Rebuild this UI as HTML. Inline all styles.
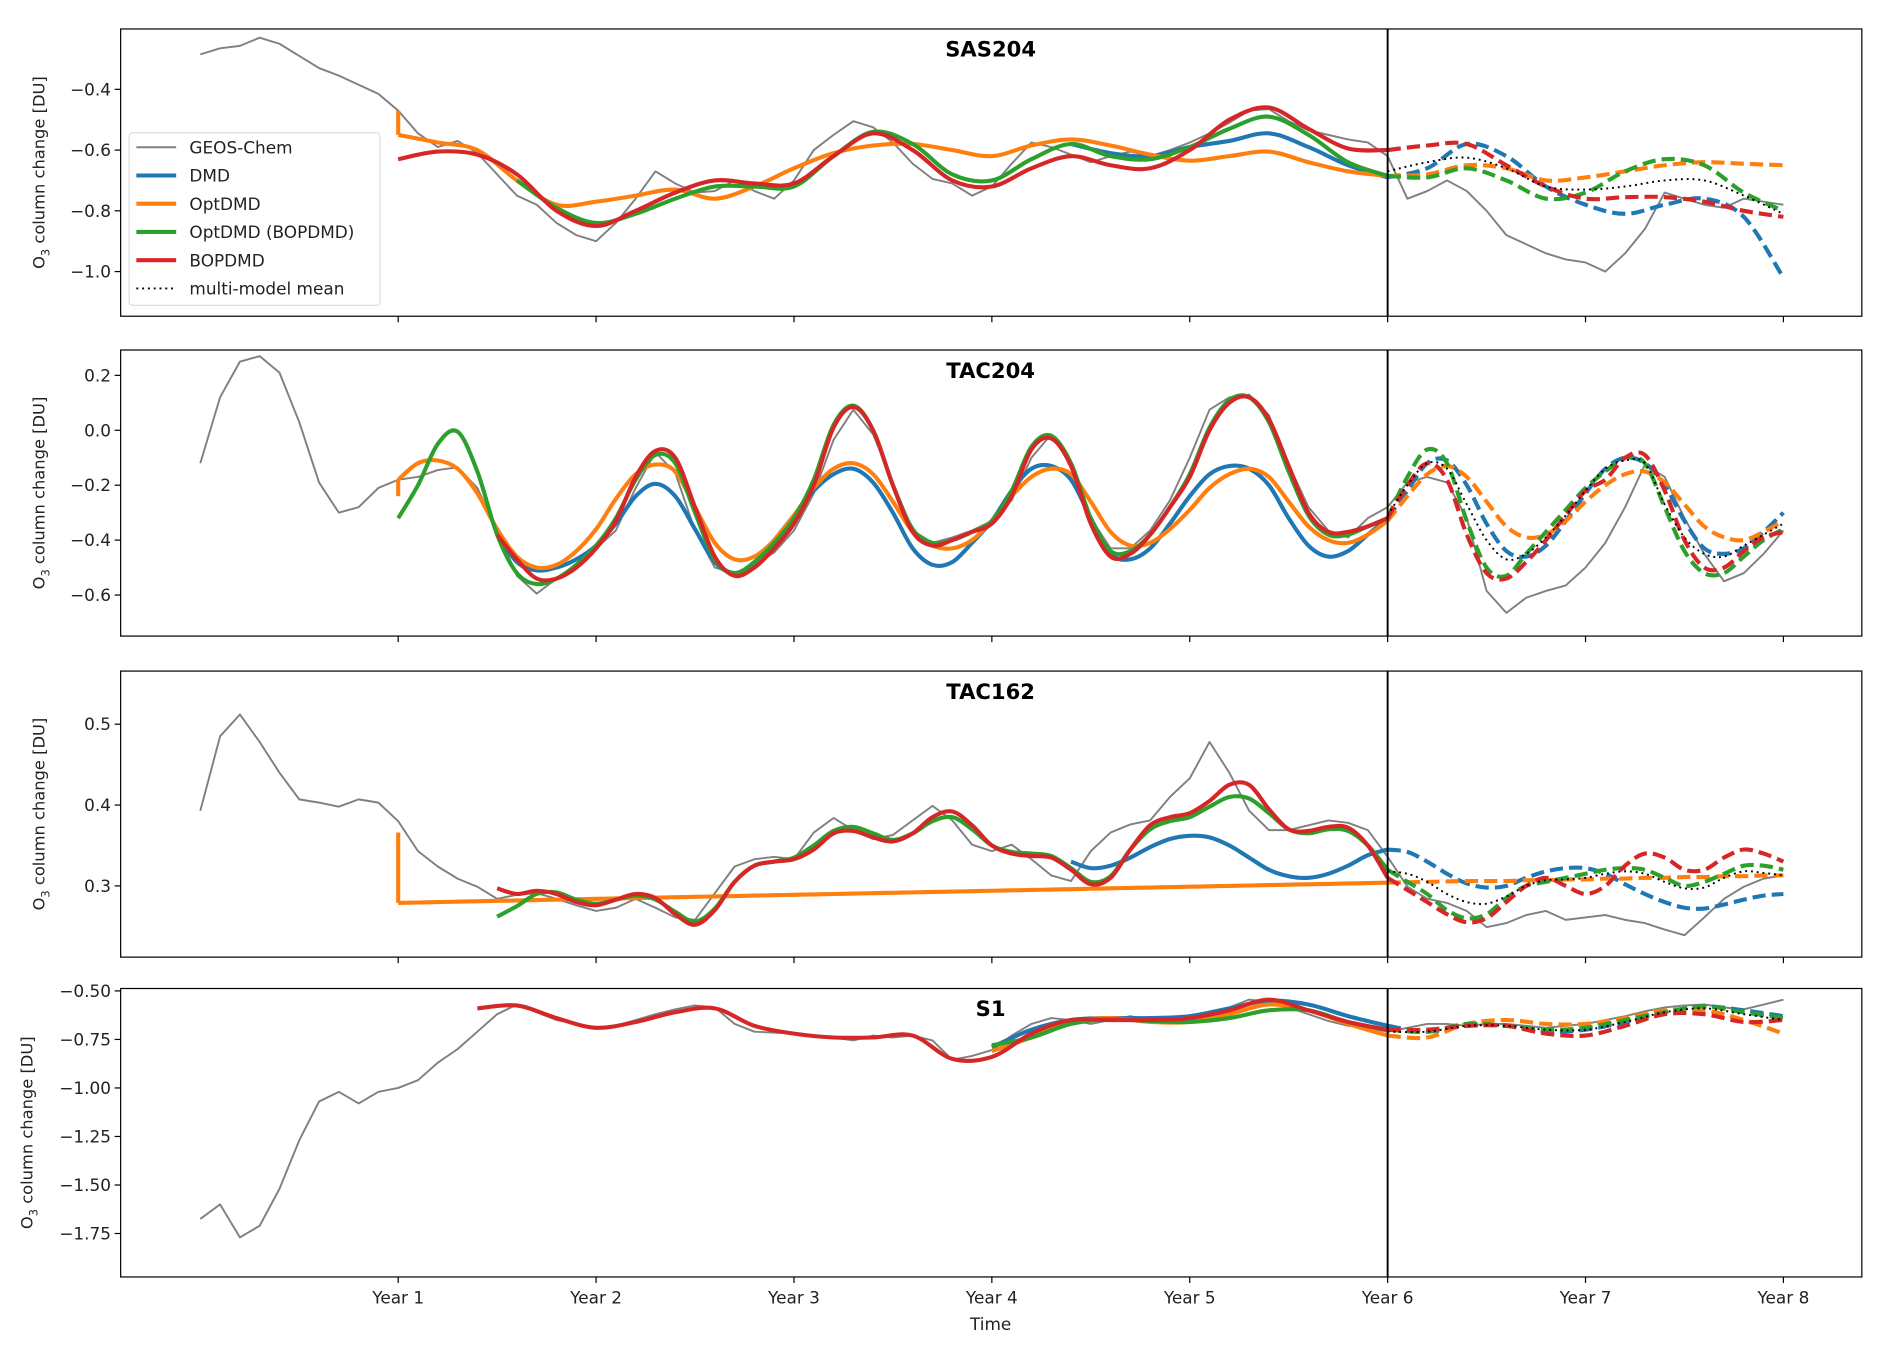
<!DOCTYPE html>
<html><head><meta charset="utf-8">
<style>
html,body{margin:0;padding:0;background:#fff;}
svg{display:block;font-family:"DejaVu Sans","Liberation Sans",sans-serif;}
</style></head>
<body>
<svg id="fig" xmlns="http://www.w3.org/2000/svg" width="1892" height="1353" viewBox="0 0 1568 1121" preserveAspectRatio="none"></svg>
<script>
// ---------- data ----------
const yearLabels = ["Year 1","Year 2","Year 3","Year 4","Year 5","Year 6","Year 7","Year 8"];
const yearTicks = [1,2,3,4,5,6,7,8];
const panelTitles = ["SAS204","TAC204","TAC162","S1"];
const sasTicks = [-0.4,-0.6,-0.8,-1.0];
const tac204Ticks = [0.2,0.0,-0.2,-0.4,-0.6];
const tac162Ticks = [0.5,0.4,0.3];
const s1Ticks = [-0.50,-0.75,-1.00,-1.25,-1.50,-1.75];
const forecastStartYear = 6;

// GEOS-Chem, t = 0..8 step 0.1
const sasGeos = [-0.285,-0.265,-0.257,-0.23,-0.25,-0.29,-0.33,-0.355,-0.385,-0.415,-0.47,-0.545,-0.59,-0.57,-0.61,-0.68,-0.75,-0.78,-0.84,-0.88,-0.9,-0.84,-0.76,-0.67,-0.71,-0.74,-0.735,-0.70,-0.735,-0.76,-0.70,-0.60,-0.55,-0.505,-0.525,-0.575,-0.645,-0.695,-0.71,-0.75,-0.72,-0.645,-0.575,-0.59,-0.615,-0.64,-0.62,-0.605,-0.62,-0.60,-0.575,-0.545,-0.51,-0.47,-0.465,-0.505,-0.535,-0.55,-0.565,-0.575,-0.62,-0.76,-0.735,-0.70,-0.735,-0.80,-0.88,-0.91,-0.94,-0.96,-0.97,-1.00,-0.94,-0.86,-0.74,-0.76,-0.78,-0.79,-0.76,-0.77,-0.78];
const tac204Geos = [-0.12,0.12,0.25,0.27,0.21,0.03,-0.19,-0.30,-0.28,-0.21,-0.18,-0.17,-0.145,-0.135,-0.21,-0.365,-0.53,-0.595,-0.54,-0.50,-0.43,-0.365,-0.21,-0.08,-0.155,-0.365,-0.50,-0.52,-0.49,-0.445,-0.365,-0.23,-0.035,0.075,-0.015,-0.19,-0.365,-0.41,-0.39,-0.365,-0.33,-0.255,-0.10,-0.015,-0.125,-0.32,-0.43,-0.43,-0.365,-0.255,-0.10,0.075,0.12,0.13,0.055,-0.125,-0.28,-0.365,-0.39,-0.32,-0.28,-0.19,-0.17,-0.19,-0.32,-0.585,-0.665,-0.61,-0.585,-0.565,-0.50,-0.41,-0.28,-0.125,-0.17,-0.32,-0.45,-0.55,-0.52,-0.45,-0.365];
const tac162Geos = [0.393,0.485,0.512,0.478,0.44,0.407,0.403,0.398,0.407,0.403,0.38,0.343,0.324,0.309,0.299,0.284,0.289,0.291,0.284,0.276,0.269,0.273,0.284,0.273,0.261,0.258,0.291,0.324,0.333,0.336,0.333,0.366,0.384,0.369,0.358,0.363,0.381,0.399,0.381,0.351,0.343,0.351,0.333,0.313,0.306,0.343,0.366,0.376,0.381,0.41,0.433,0.478,0.44,0.393,0.369,0.369,0.375,0.381,0.378,0.369,0.336,0.299,0.284,0.279,0.269,0.249,0.254,0.264,0.269,0.258,0.261,0.264,0.258,0.254,0.246,0.239,0.261,0.284,0.299,0.309,0.313];
const s1Geos = [-1.675,-1.60,-1.77,-1.71,-1.52,-1.27,-1.07,-1.02,-1.08,-1.02,-1.00,-0.96,-0.87,-0.80,-0.71,-0.62,-0.57,-0.61,-0.65,-0.67,-0.69,-0.68,-0.65,-0.62,-0.595,-0.575,-0.585,-0.67,-0.71,-0.715,-0.72,-0.73,-0.74,-0.755,-0.73,-0.74,-0.73,-0.755,-0.855,-0.835,-0.805,-0.73,-0.67,-0.64,-0.65,-0.67,-0.65,-0.63,-0.65,-0.655,-0.64,-0.63,-0.585,-0.545,-0.555,-0.585,-0.62,-0.655,-0.68,-0.69,-0.71,-0.69,-0.67,-0.67,-0.68,-0.67,-0.67,-0.68,-0.69,-0.68,-0.67,-0.65,-0.63,-0.605,-0.585,-0.575,-0.57,-0.585,-0.595,-0.57,-0.545];

// SAS204 fits, t = 1..8 step 0.2 (null = not drawn)
const sasDMD = [null,null,null,null,null,null,null,null,null,null,null,null,null,null,null,null,null,-0.58,-0.61,-0.62,-0.59,-0.57,-0.545,-0.59,-0.65,-0.69,-0.66,-0.58,-0.62,-0.72,-0.78,-0.81,-0.78,-0.76,-0.82,-1.02];
const sasOpt = [-0.55,-0.575,-0.60,-0.70,-0.78,-0.77,-0.75,-0.73,-0.76,-0.72,-0.66,-0.61,-0.585,-0.58,-0.60,-0.62,-0.585,-0.565,-0.585,-0.615,-0.635,-0.62,-0.605,-0.64,-0.67,-0.685,-0.68,-0.65,-0.66,-0.70,-0.69,-0.67,-0.65,-0.64,-0.645,-0.65];
const sasOptStart = -0.47;
const sasOptB = [null,null,null,-0.70,-0.79,-0.84,-0.81,-0.76,-0.72,-0.72,-0.72,-0.62,-0.54,-0.58,-0.68,-0.70,-0.63,-0.58,-0.62,-0.63,-0.59,-0.53,-0.49,-0.55,-0.64,-0.685,-0.69,-0.66,-0.70,-0.76,-0.74,-0.67,-0.63,-0.65,-0.74,-0.80];
const sasBOP = [-0.63,-0.605,-0.615,-0.68,-0.80,-0.85,-0.80,-0.74,-0.70,-0.71,-0.71,-0.62,-0.545,-0.60,-0.70,-0.72,-0.66,-0.62,-0.65,-0.66,-0.60,-0.50,-0.46,-0.53,-0.595,-0.60,-0.585,-0.58,-0.65,-0.72,-0.76,-0.755,-0.755,-0.77,-0.80,-0.82];
const sasMean = [null,null,null,null,null,null,null,null,null,null,null,null,null,null,null,null,null,null,null,null,null,null,null,null,null,-0.67,-0.64,-0.625,-0.66,-0.72,-0.73,-0.72,-0.70,-0.70,-0.75,-0.81];

// TAC204 fits, t = 1..8 step 0.1
const tac204DMD = [null,null,null,null,null,-0.38,-0.48,-0.51,-0.50,-0.47,-0.42,-0.34,-0.24,-0.195,-0.24,-0.36,-0.48,-0.52,-0.48,-0.40,-0.31,-0.22,-0.16,-0.14,-0.19,-0.30,-0.43,-0.49,-0.48,-0.41,-0.33,-0.22,-0.14,-0.13,-0.18,-0.32,-0.45,-0.47,-0.43,-0.34,-0.24,-0.16,-0.13,-0.14,-0.20,-0.32,-0.42,-0.46,-0.44,-0.38,-0.32,-0.22,-0.12,-0.11,-0.20,-0.34,-0.44,-0.46,-0.42,-0.33,-0.23,-0.14,-0.10,-0.12,-0.20,-0.33,-0.43,-0.45,-0.43,-0.37,-0.30];
const tac204Opt = [-0.18,-0.12,-0.11,-0.14,-0.23,-0.36,-0.46,-0.50,-0.49,-0.44,-0.36,-0.25,-0.16,-0.125,-0.15,-0.28,-0.41,-0.47,-0.46,-0.40,-0.31,-0.21,-0.14,-0.12,-0.16,-0.26,-0.37,-0.42,-0.43,-0.40,-0.33,-0.24,-0.17,-0.14,-0.16,-0.26,-0.37,-0.42,-0.41,-0.36,-0.29,-0.21,-0.16,-0.14,-0.17,-0.26,-0.35,-0.40,-0.41,-0.38,-0.33,-0.24,-0.16,-0.13,-0.17,-0.26,-0.35,-0.39,-0.38,-0.33,-0.26,-0.20,-0.16,-0.15,-0.19,-0.27,-0.35,-0.39,-0.40,-0.37,-0.33];
const tac204OptStart = -0.24;
const tac204OptB = [-0.32,-0.20,-0.05,-0.005,-0.15,-0.38,-0.52,-0.56,-0.54,-0.49,-0.42,-0.32,-0.18,-0.09,-0.12,-0.30,-0.47,-0.52,-0.48,-0.41,-0.32,-0.18,0.02,0.09,0.0,-0.20,-0.36,-0.41,-0.40,-0.37,-0.33,-0.22,-0.06,-0.02,-0.12,-0.32,-0.44,-0.44,-0.38,-0.28,-0.16,0.01,0.11,0.12,0.03,-0.15,-0.31,-0.38,-0.38,-0.35,-0.32,-0.17,-0.07,-0.12,-0.33,-0.50,-0.53,-0.45,-0.37,-0.29,-0.21,-0.15,-0.10,-0.12,-0.28,-0.44,-0.52,-0.52,-0.46,-0.40,-0.36];
const tac204BOP = [null,null,null,null,null,-0.38,-0.47,-0.54,-0.54,-0.50,-0.43,-0.33,-0.17,-0.075,-0.10,-0.28,-0.46,-0.53,-0.50,-0.43,-0.34,-0.20,0.01,0.085,0.0,-0.20,-0.37,-0.42,-0.40,-0.37,-0.34,-0.24,-0.07,-0.03,-0.13,-0.34,-0.46,-0.45,-0.38,-0.28,-0.17,0.0,0.10,0.12,0.04,-0.13,-0.30,-0.37,-0.37,-0.35,-0.32,-0.20,-0.12,-0.18,-0.38,-0.52,-0.54,-0.48,-0.40,-0.31,-0.22,-0.18,-0.10,-0.09,-0.22,-0.40,-0.50,-0.50,-0.44,-0.39,-0.37];
const tac204Mean = [null,null,null,null,null,null,null,null,null,null,null,null,null,null,null,null,null,null,null,null,null,null,null,null,null,null,null,null,null,null,null,null,null,null,null,null,null,null,null,null,null,null,null,null,null,null,null,null,null,null,-0.31,-0.20,-0.12,-0.14,-0.27,-0.40,-0.47,-0.45,-0.39,-0.31,-0.22,-0.14,-0.11,-0.12,-0.27,-0.39,-0.45,-0.46,-0.42,-0.38,-0.34];

// TAC162 fits, t = 1..8 step 0.1
const tac162DMD = [null,null,null,null,null,null,null,null,null,null,null,null,null,null,null,null,null,null,null,null,null,null,null,null,null,null,null,null,null,null,null,null,null,null,0.33,0.322,0.325,0.335,0.348,0.358,0.362,0.36,0.35,0.335,0.32,0.312,0.31,0.315,0.325,0.338,0.345,0.342,0.33,0.315,0.303,0.298,0.30,0.31,0.318,0.322,0.322,0.315,0.302,0.29,0.28,0.273,0.272,0.277,0.283,0.288,0.29];
const tac162Opt = [0.279,0.2795,0.280,0.2805,0.281,0.2815,0.282,0.2825,0.283,0.2835,0.284,0.2845,0.285,0.2855,0.286,0.2865,0.287,0.2875,0.288,0.2885,0.289,0.2895,0.290,0.2905,0.291,0.2915,0.292,0.2925,0.293,0.2935,0.294,0.2945,0.295,0.2955,0.296,0.2965,0.297,0.2975,0.298,0.2985,0.299,0.2995,0.300,0.3005,0.301,0.3015,0.302,0.3025,0.303,0.3035,0.304,0.3045,0.305,0.3055,0.306,0.306,0.306,0.307,0.307,0.308,0.308,0.309,0.309,0.310,0.310,0.311,0.311,0.312,0.312,0.313,0.313];
const tac162OptStart = 0.366;
const tac162OptB = [null,null,null,null,null,0.262,0.275,0.29,0.292,0.283,0.278,0.283,0.288,0.283,0.268,0.256,0.272,0.305,0.325,0.33,0.335,0.35,0.368,0.373,0.365,0.357,0.365,0.38,0.385,0.37,0.35,0.342,0.34,0.337,0.322,0.305,0.312,0.345,0.37,0.38,0.385,0.398,0.41,0.408,0.39,0.37,0.365,0.37,0.368,0.35,0.32,0.305,0.29,0.27,0.26,0.265,0.285,0.30,0.305,0.31,0.315,0.32,0.322,0.32,0.31,0.30,0.305,0.315,0.325,0.325,0.32];
const tac162BOP = [null,null,null,null,null,0.297,0.29,0.294,0.29,0.28,0.276,0.283,0.29,0.285,0.265,0.252,0.27,0.305,0.325,0.33,0.333,0.345,0.365,0.368,0.36,0.355,0.365,0.385,0.392,0.375,0.35,0.34,0.337,0.335,0.32,0.302,0.31,0.345,0.375,0.385,0.39,0.405,0.425,0.425,0.395,0.37,0.368,0.373,0.372,0.35,0.31,0.295,0.28,0.265,0.255,0.26,0.28,0.30,0.31,0.30,0.29,0.30,0.325,0.34,0.335,0.32,0.32,0.335,0.345,0.34,0.33];
const tac162Mean = [null,null,null,null,null,null,null,null,null,null,null,null,null,null,null,null,null,null,null,null,null,null,null,null,null,null,null,null,null,null,null,null,null,null,null,null,null,null,null,null,null,null,null,null,null,null,null,null,null,null,0.318,0.315,0.305,0.29,0.28,0.278,0.287,0.30,0.307,0.308,0.31,0.315,0.318,0.315,0.305,0.297,0.298,0.31,0.318,0.316,0.313];

// S1 fits, t = 1..8 step 0.2
const s1DMD = [null,null,null,null,null,null,null,null,null,null,null,null,null,null,null,-0.79,-0.70,-0.65,-0.64,-0.64,-0.63,-0.59,-0.55,-0.57,-0.63,-0.68,-0.71,-0.68,-0.68,-0.71,-0.70,-0.66,-0.61,-0.58,-0.60,-0.63];
const s1Opt = [null,null,null,null,null,null,null,null,null,null,null,null,null,null,null,-0.81,-0.74,-0.66,-0.64,-0.66,-0.66,-0.62,-0.57,-0.60,-0.67,-0.73,-0.74,-0.67,-0.65,-0.67,-0.67,-0.64,-0.60,-0.60,-0.65,-0.72];
const s1OptB = [null,null,null,null,null,null,null,null,null,null,null,null,null,null,null,-0.78,-0.74,-0.67,-0.645,-0.655,-0.66,-0.64,-0.60,-0.60,-0.66,-0.70,-0.71,-0.67,-0.68,-0.70,-0.69,-0.65,-0.61,-0.58,-0.61,-0.64];
const s1BOP = [null,null,-0.59,-0.575,-0.64,-0.69,-0.66,-0.61,-0.59,-0.68,-0.72,-0.74,-0.74,-0.73,-0.85,-0.84,-0.72,-0.65,-0.65,-0.65,-0.64,-0.60,-0.545,-0.60,-0.66,-0.70,-0.70,-0.68,-0.68,-0.72,-0.73,-0.68,-0.62,-0.62,-0.66,-0.65];
const s1Mean = [null,null,null,null,null,null,null,null,null,null,null,null,null,null,null,null,null,null,null,null,null,null,null,null,null,-0.71,-0.71,-0.68,-0.68,-0.70,-0.70,-0.66,-0.61,-0.59,-0.62,-0.65];

const legendLabels = ["GEOS-Chem","DMD","OptDMD","OptDMD (BOPDMD)","BOPDMD","multi-model mean"];

// ---------- layout ----------
const NS = "http://www.w3.org/2000/svg";
const svg = document.getElementById('fig');
const AX_L = 100, AX_R = 1543;
const C = {geos:"#808080", dmd:"#1f77b4", opt:"#ff7f0e", optb:"#2ca02c", bop:"#d62728", mean:"#000"};
const xYear = t => 166 + 164 * t;
function mk(tag, attrs, parent){ const e = document.createElementNS(NS, tag); for (const k in attrs) e.setAttribute(k, attrs[k]); (parent||svg).appendChild(e); return e; }
function yLin(v0, p0, v1, p1){ return v => p0 + (v - v0) * (p1 - p0) / (v1 - v0); }

const panels = [
  {title:panelTitles[0], top:24, bot:262, y:yLin(-0.4,74,-1.0,225), ticks:sasTicks, dec:1, step:0.2,
   geos:sasGeos, dmd:sasDMD, opt:sasOpt, optStart:sasOptStart, optb:sasOptB, bop:sasBOP, mean:sasMean, key:'sas204'},
  {title:panelTitles[1], top:290, bot:527, y:yLin(0.2,311,-0.6,493), ticks:tac204Ticks, dec:1, step:0.1,
   geos:tac204Geos, dmd:tac204DMD, opt:tac204Opt, optStart:tac204OptStart, optb:tac204OptB, bop:tac204BOP, mean:tac204Mean, key:'tac204'},
  {title:panelTitles[2], top:556, bot:793, y:yLin(0.5,600,0.3,734), ticks:tac162Ticks, dec:1, step:0.1,
   geos:tac162Geos, dmd:tac162DMD, opt:tac162Opt, optStart:tac162OptStart, optb:tac162OptB, bop:tac162BOP, mean:tac162Mean, key:'tac162'},
  {title:panelTitles[3], top:819, bot:1058, y:yLin(-0.5,821,-1.75,1022), ticks:s1Ticks, dec:2, step:0.2,
   geos:s1Geos, dmd:s1DMD, opt:s1Opt, optStart:null, optb:s1OptB, bop:s1BOP, mean:s1Mean, key:'s1'}
];

function smoothPath(pts){
  if (pts.length < 2) return "";
  let d = "M" + pts[0][0].toFixed(2) + "," + pts[0][1].toFixed(2);
  for (let i = 0; i < pts.length - 1; i++){
    const p0 = pts[Math.max(0,i-1)], p1 = pts[i], p2 = pts[i+1], p3 = pts[Math.min(pts.length-1,i+2)];
    const c1x = p1[0] + (p2[0]-p0[0])/6, c1y = p1[1] + (p2[1]-p0[1])/6;
    const c2x = p2[0] - (p3[0]-p1[0])/6, c2y = p2[1] - (p3[1]-p1[1])/6;
    d += " C" + c1x.toFixed(2)+","+c1y.toFixed(2)+" "+c2x.toFixed(2)+","+c2y.toFixed(2)+" "+p2[0].toFixed(2)+","+p2[1].toFixed(2);
  }
  return d;
}

panels.forEach((P, pi) => {
  const g = mk('g', {});
  
  
  const clipId = 'clip' + pi;
  const cp = mk('clipPath', {id: clipId}, g);
  mk('rect', {x:AX_L, y:P.top, width:AX_R-AX_L, height:P.bot-P.top}, cp);
  const plot = mk('g', {'clip-path':'url(#'+clipId+')'}, g);

  // y ticks
  P.ticks.forEach(v => {
    const y = P.y(v);
    const tk = mk('line', {x1:AX_L-5, x2:AX_L, y1:y, y2:y, stroke:'#000', 'stroke-width':1}, g);
    
    
    const tx = mk('text', {x:AX_L-8, y:y+5, 'text-anchor':'end', 'font-size':14, fill:'#222'}, g);
    tx.textContent = v.toFixed(P.dec).replace('-', '\u2212');
    
    
  });
  // x ticks
  yearTicks.forEach((t, i) => {
    const x = xYear(t);
    const tk = mk('line', {x1:x, x2:x, y1:P.bot, y2:P.bot+5, stroke:'#000', 'stroke-width':1}, g);
    
    
    if (pi === 3){
      const tx = mk('text', {x:x, y:P.bot+22, 'text-anchor':'middle', 'font-size':14, fill:'#222'}, g);
      tx.textContent = yearLabels[i];
      
      
    }
  });
  // y axis label
  const cy = (P.top + P.bot) / 2;
  const yl = mk('text', {x:0, y:0, 'text-anchor':'middle', 'font-size':13.5, fill:'#222', transform:'translate('+(pi===3?27:37)+','+cy+') rotate(-90)'}, g);
  yl.innerHTML = 'O<tspan font-size="9.5" dy="4">3</tspan><tspan dy="-4"> column change [DU]</tspan>';
  
  

  // GEOS-Chem
  const gp = P.geos.map((v, i) => [xYear(i*0.1), P.y(v)]);
  const geo = mk('path', {d: 'M' + gp.map(p => p[0].toFixed(2)+','+p[1].toFixed(2)).join(' L'), fill:'none', stroke:C.geos, 'stroke-width':1.6, 'stroke-linejoin':'round'}, plot);
  
  

  function drawFit(arr, color, name, startVal){
    const pts = [];
    arr.forEach((v, i) => { if (v !== null) pts.push([1 + i*P.step, v]); });
    const solid = pts.filter(p => p[0] <= forecastStartYear + 1e-6).map(p => [xYear(p[0]), P.y(p[1])]);
    const dash = pts.filter(p => p[0] >= forecastStartYear - 1e-6).map(p => [xYear(p[0]), P.y(p[1])]);
    if (startVal !== null && startVal !== undefined && solid.length){
      const j = mk('line', {x1:solid[0][0], x2:solid[0][0], y1:P.y(startVal), y2:solid[0][1], stroke:color, 'stroke-width':3.4}, plot);
      
      
    }
    if (solid.length > 1){
      const s = mk('path', {d:smoothPath(solid), fill:'none', stroke:color, 'stroke-width':3.4, 'stroke-linecap':'butt'}, plot);
      
      
    }
    if (dash.length > 1){
      const s = mk('path', {d:smoothPath(dash), fill:'none', stroke:color, 'stroke-width':3.4, 'stroke-dasharray':'11 5'}, plot);
      
      
    }
  }
  drawFit(P.dmd, C.dmd, 'dmd', null);
  drawFit(P.opt, C.opt, 'optdmd', P.optStart);
  drawFit(P.optb, C.optb, 'optdmd-bopdmd', null);
  drawFit(P.bop, C.bop, 'bopdmd', null);
  // mean
  const mp = [];
  P.mean.forEach((v, i) => { if (v !== null) mp.push([xYear(1 + i*P.step), P.y(v)]); });
  const mm = mk('path', {d:smoothPath(mp), fill:'none', stroke:C.mean, 'stroke-width':1.6, 'stroke-dasharray':'1.6 3.2'}, plot);
  
  

  // forecast divider
  const vl = mk('line', {x1:xYear(forecastStartYear), x2:xYear(forecastStartYear), y1:P.top, y2:P.bot, stroke:'#000', 'stroke-width':1.6}, g);
  
  
  // frame
  const fr = mk('rect', {x:AX_L, y:P.top, width:AX_R-AX_L, height:P.bot-P.top, fill:'none', stroke:'#000', 'stroke-width':1}, g);
  
  
  // title
  const tt = mk('text', {x:821, y:P.top+23, 'text-anchor':'middle', 'font-size':17.5, 'font-weight':'bold', fill:'#000'}, g);
  tt.textContent = P.title;
  
  
});

// x-axis title
const xt = mk('text', {x:821, y:1102, 'text-anchor':'middle', 'font-size':14, fill:'#222'});
xt.textContent = 'Time';



// legend
const lg = mk('g', {});


mk('rect', {x:107, y:110, width:208, height:143, rx:3, fill:'#fff', 'fill-opacity':0.85, stroke:'#ddd', 'stroke-width':1}, lg);
const legColors = [C.geos, C.dmd, C.opt, C.optb, C.bop, C.mean];
legendLabels.forEach((lab, i) => {
  const y = 122 + i * 23.4;
  const ln = mk('line', {x1:113, x2:146, y1:y, y2:y, stroke:legColors[i], 'stroke-width': i===0 ? 1.6 : (i===5 ? 1.6 : 3.4), 'stroke-dasharray': i===5 ? '1.6 3.2' : 'none'}, lg);
  
  
  const tx = mk('text', {x:157, y:y+5, 'font-size':14, fill:'#222'}, lg);
  tx.textContent = lab;
  
  
});
</script>
</body></html>
